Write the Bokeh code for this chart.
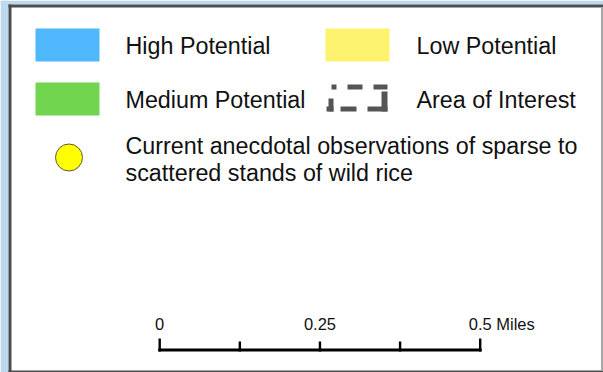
from bokeh.plotting import figure
from bokeh.models import Range1d
from bokeh.core.properties import value
from bokeh.embed import file_html
from bokeh.resources import INLINE

# ---- legend content ----
swatch_labels = ["High Potential", "Medium Potential", "Low Potential"]
swatch_colors = ["#4fb7fb", "#72d550", "#fef36e"]
aoi_label = "Area of Interest"
obs_lines = ["Current anecdotal observations of sparse to",
             "scattered stands of wild rice"]
scale_ticks = [0, 0.125, 0.25, 0.375, 0.5]      # miles
scale_major = [0, 0.5]
scale_label_values = [0, 0.25, 0.5]
scale_label_texts = ["0", "0.25", "0.5 Miles"]

FONT = value("Liberation Sans")
FS = "23.3px"
W, H = 603, 372

p = figure(width=W, height=H, x_range=Range1d(0, W), y_range=Range1d(H, 0),
           output_backend="svg", toolbar_location=None, min_border=0,
           x_axis_location=None, y_axis_location=None,
           background_fill_color="white", border_fill_color="white",
           outline_line_color=None)
p.xgrid.visible = False
p.ygrid.visible = False

# surrounding page colour and panel frame
p.quad(left=[0, 0], right=[8, W], top=[0, 0], bottom=[H, 4],
       color="#bed8ef", line_color=None)
p.quad(left=[8], right=[11], top=[4], bottom=[H], color="#4d4d4d", line_color=None)
p.quad(left=[8], right=[W], top=[4], bottom=[7], color="#4d4d4d", line_color=None)
p.quad(left=[8], right=[W], top=[370], bottom=[H], color="#4d4d4d", line_color=None)
p.quad(left=[600.5], right=[602.5], top=[7], bottom=[370], color="#a8a8a8",
       line_color=None)

# colour swatches
sw_left = [35, 35, 325]
sw_top = [28, 82, 28]
p.quad(left=sw_left, right=[x + 64 for x in sw_left], top=sw_top,
       bottom=[y + 33 for y in sw_top], color=swatch_colors, line_color=None)
p.text(x=[125, 125, 416], y=[45, 99, 45], text=swatch_labels, text_font=FONT,
       text_font_size=FS, text_color="#111111", text_baseline="middle")

# area of interest symbol (dashed outline)
aoi_l = [331, 347, 373, 381, 367, 340, 328, 326]
aoi_r = [336, 362, 387, 387, 387, 356, 333, 333]
aoi_t = [84, 84, 84, 91, 106, 106, 98, 106]
aoi_b = [89, 89, 89, 111, 111, 111, 111, 111]
p.quad(left=aoi_l, right=aoi_r, top=aoi_t, bottom=aoi_b, color="#555555",
       line_color=None)
p.text(x=[416], y=[99], text=[aoi_label], text_font=FONT,
       text_font_size=FS, text_color="#111111", text_baseline="middle")

# observation marker
p.scatter(x=[68.5], y=[157], size=27, marker="circle", fill_color="#ffff00",
          line_color="#5a5a40", line_width=1)
p.text(x=[125, 125], y=[145.5, 172.5], text=obs_lines, text_font=FONT,
       text_font_size=FS, text_color="#111111", text_baseline="middle")

# scale bar
x0, px_per_mile = 159.2, 641.0
sx = [x0 + t * px_per_mile for t in scale_ticks]
p.quad(left=[sx[0] - 1.5], right=[sx[-1] + 1.5], top=[348], bottom=[351],
       color="black", line_color=None)
p.quad(left=[x - 1.2 for x in sx], right=[x + 1.2 for x in sx],
       top=[338 if t in scale_major else 341 for t in scale_ticks],
       bottom=[351] * len(sx), color="black", line_color=None)
lx = [x0 + v * px_per_mile for v in scale_label_values]
p.text(x=lx[:2], y=[323.5, 323.5], text=scale_label_texts[:2], text_font=FONT,
       text_font_size="16.5px", text_color="#111111", text_align="center",
       text_baseline="middle")
p.text(x=[lx[2] - 11.5], y=[323.5], text=scale_label_texts[2:], text_font=FONT,
       text_font_size="16.5px", text_color="#111111", text_align="left",
       text_baseline="middle")

open("out.html", "w").write(file_html(p, INLINE))
